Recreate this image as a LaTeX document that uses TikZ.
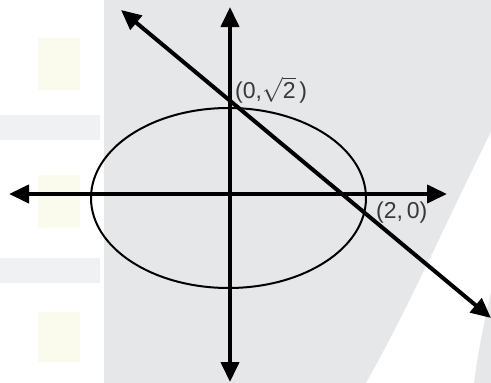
\documentclass[tikz,border=0pt]{standalone}
\usepackage{fontspec}
\setmainfont{Liberation Sans}
\usetikzlibrary{arrows.meta}
\definecolor{bggray}{RGB}{229,231,233}
\definecolor{wmyellow}{RGB}{250,251,236}
\definecolor{wmgray}{RGB}{240,241,242}
\begin{document}
\begin{tikzpicture}[x=1pt,y=-1pt,
  axis/.style={line width=4pt, {Triangle[length=20pt,width=18pt]}-{Triangle[length=20pt,width=18pt]}},
  lbl/.style={font=\fontsize{23}{26}\selectfont, text=black!78, inner sep=0pt, anchor=west}]
\useasboundingbox (0,0) rectangle (491,383);
\fill[white] (0,0) rectangle (491,383);
\fill[wmyellow] (38,38) rectangle (80,90);
\fill[wmyellow] (38,175) rectangle (80,228);
\fill[wmyellow] (38,312) rectangle (80,362);
\fill[wmgray] (0,115) rectangle (100,140);
\fill[wmgray] (0,258) rectangle (100,283);
\fill[bggray] (104,0) rectangle (491,383);
\fill[white] (491,132) .. controls (445,225) and (405,315) .. (366,383) -- (474,383) .. controls (478,350) and (485,318) .. (491,292) -- cycle;
\coordinate (xl) at (9,194);
\coordinate (xr) at (447,194);
\coordinate (yt) at (230,7);
\coordinate (yb) at (230,382);
\coordinate (dl) at (121,10);
\coordinate (dr) at (491,318);
\draw[line width=2pt] (228.5,198) ellipse [x radius=137.5, y radius=90];
\draw[axis] (xl) -- (xr);
\draw[axis] (yt) -- (yb);
\draw[axis] (dl) -- (dr);
\node[lbl] (p1) at (235,90) {(0,$\sqrt{\mbox{2}}$\,)};
\node[lbl] (p2) at (376,213) {(2,\,0)};
\end{tikzpicture}
\end{document}
